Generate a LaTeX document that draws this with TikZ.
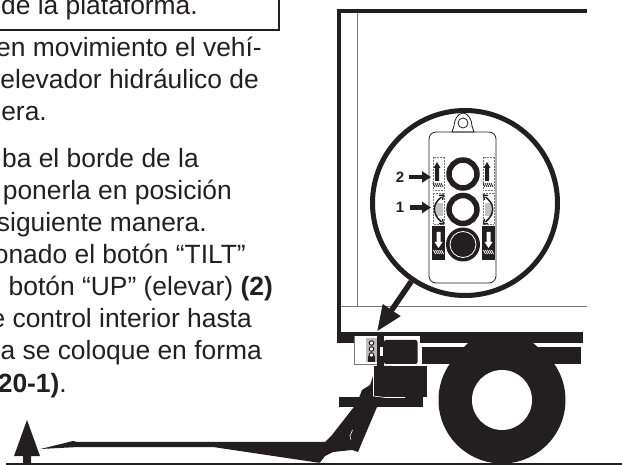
\documentclass[tikz,border=0pt]{standalone}
\usepackage{fontspec}
\usetikzlibrary{arrows.meta}
\setmainfont{Liberation Sans}
\definecolor{ink}{HTML}{231F20}
\definecolor{wire}{HTML}{777777}
\tikzset{
  para/.style={anchor=base east,inner sep=0pt,text=ink,font=\fontsize{26.4}{32}\selectfont},
  callout/.style={inner sep=0pt,text=ink,font=\fontsize{15}{15}\selectfont\bfseries},
  thin wire/.style={draw=wire,line width=0.9pt},
  pendant/.style={draw=ink,line width=0.8pt},
  dots/.style={draw=wire,line width=0.5pt,densely dotted},
  pointer/.style={draw=ink,line width=5.5pt,-{Triangle[length=26pt,width=20pt,fill=ink]}},
  small pointer/.style={draw=ink,line width=4.5pt,-{Triangle[length=9pt,width=11pt,fill=ink]}},
  button/.style={circle,draw=ink,line width=5.5pt,minimum size=28pt,inner sep=0pt}
}
\begin{document}
\begin{tikzpicture}[x=1pt,y=-1pt]
\useasboundingbox (0,0) rectangle (622,465);
% --- text column
\node[para] (t1) at (198,15) {de la plataforma.};
\draw[ink,line width=2pt] (-5,30) -- (279,30) -- (279,-5);
\node[para] (t2) at (262,57) {en movimiento el vehí-};
\node[para] (t3) at (259,89) {elevador hidráulico de};
\node[para] (t4) at (47,121) {nera.};
\node[para] (t5) at (199,168) {ba el borde de la};
\node[para] (t6) at (232,200) {ponerla en posición};
\node[para] (t7) at (207,232) {siguiente manera.};
\node[para] (t8) at (246,264) {onado el botón “TILT”};
\node[para] (t9) at (273,296) {botón “UP” (elevar) \textbf{(2)}};
\node[para] (t10) at (252,328) {e control interior hasta};
\node[para] (t11) at (262,360) {a se coloque en forma};
\node[para] (t12) at (67,392) {\textbf{20-1)}.};
% --- body of the vehicle
\fill[ink] (337,9) rectangle (587,13);
\fill[ink] (337,9) rectangle (341,336);
\draw[thin wire] (357,13) -- (357,306);
\draw[thin wire] (341,306.5) -- (587,306.5);
% --- chassis bars
\fill[ink] (337,332) rectangle (583,343.5);
\fill[ink] (422,347) rectangle (581,364);
% --- wheel
\fill[ink] (502,400) circle[radius=63.5];
\fill[ink] (468,343) -- (533,343) -- (540,349) -- (462,349) -- cycle;
\fill[white] (502,400) circle[radius=30];
% --- mount box, control box and blocks
\fill[white] (354,336) rectangle (420,365);
\draw[wire,line width=0.7pt] (354,336) -- (354,364.5) -- (378,364.5);
\fill[ink] (377,336) rectangle (384,367);
\fill[white] (380,347) rectangle (383,356);
\fill[ink,rounded corners=2pt] (384,340) rectangle (417.5,364);
\fill[wire!50] (366,338) rectangle (377,362);
\fill[ink] (368,356) rectangle (375,362);
\foreach \yy in {343,349,355}
  \draw[ink,line width=1pt,fill=white] (371.5,\yy) circle[radius=2.3];
% --- lift arm and platform
\fill[ink] (339,397) rectangle (423,407);
\fill[ink] (40.5,449) -- (73,441) -- (77,442) -- (325,442) -- (332,435) -- (357,403)
  -- (362,390) -- (370,385) -- (373,376) -- (378,366) -- (392,366) -- (392,407) -- (377,407)
  -- (363,440) -- (358,452) -- (352,450) -- (333,452) -- (325,456) -- (320,462.5) -- (317,462.5)
  -- (213,447) -- (78,447) -- cycle;
\fill[ink] (373,366) rectangle (426.5,397);
\draw[white,line width=0.6pt] (373.5,366) -- (373.5,396) -- (385,397.5) -- (405,397.5);
\draw[white,line width=0.6pt] (352.5,430) -- (350,436) -- (351,440);
% --- ground and up arrow
\fill[ink] (6,462.5) rectangle (622,465);
\fill[ink] (27,420) -- (40,456) -- (31,456) -- (31,463) -- (23,463) -- (23,456) -- (14,456) -- cycle;
% --- detail circle and pointer to the control box
\node[circle,draw=ink,fill=white,line width=5pt,minimum size=185pt,inner sep=0pt] (detail) at (465,203) {};
\coordinate (tip) at (377,331.5);
\draw[pointer] (detail) -- (tip);
% --- pendant
\draw[pendant,fill=white] (452,132) -- (454,126) .. controls (454,120) and (458,113) .. (463,113)
  .. controls (468,113) and (472,120) .. (472,126) -- (474,132) -- cycle;
\draw[pendant] (463,123) circle[radius=5];
\node[draw=ink,line width=0.8pt,rounded corners=7pt,minimum width=67pt,minimum height=151pt,inner sep=0pt] (pendantbody) at (462.5,207.5) {};
% --- buttons
\node[button] (b2) at (463,174) {};
\node[button] (b1) at (463,209.5) {};
\node[circle,fill=ink,minimum size=34pt,inner sep=0pt] (b0) at (463,244.5) {};
\draw[white,line width=0.8pt] (b0.center) circle[radius=13];
% --- symbols, both sides (\sg mirrors the tilt arrow)
\foreach \cx/\sg in {438.5/1,488.5/-1}{
  \draw[dots] (\cx-5.5,157) rectangle (\cx+5.5,190);
  \draw[dots] (\cx-5.5,193) rectangle (\cx+5.5,224);
  \fill[wire!45] (\cx-3.5,203) rectangle (\cx+4,216);
  % up arrow
  \fill[ink] (\cx-1.5,162) -- (\cx+2,168) -- (\cx+0.5,168) -- (\cx+0.5,181) -- (\cx-3.5,181) -- (\cx-3.5,168) -- (\cx-5,168) -- cycle;
  \foreach \dx in {-4,-2,0,2,4}
    \draw[ink,line width=0.7pt] (\cx+\dx-1.5,183) -- (\cx+\dx+0.5,187);
  % tilt arrow
  \draw[ink,line width=1.5pt] (\cx+\sg*3,197) .. controls (\cx-\sg*6.5,204) and (\cx-\sg*6.5,214) .. (\cx+\sg*3,222);
  \draw[ink,line width=1.3pt] (\cx+\sg*0.5,195.5) -- (\cx+\sg*5,195) -- (\cx+\sg*4,200);
  \draw[ink,line width=1.3pt] (\cx+\sg*0.5,223.5) -- (\cx+\sg*5,224) -- (\cx+\sg*4,219);
  % down square
  \fill[ink] (\cx-6.5,226) rectangle (\cx+6.5,260);
  \fill[white] (\cx-2,232) -- (\cx+2,232) -- (\cx+2,242) -- (\cx+4,242) -- (\cx,248) -- (\cx-4,242) -- (\cx-2,242) -- cycle;
  \foreach \dx in {-4,-2,0,2,4}
    \draw[white,line width=0.7pt] (\cx+\dx-1,250) -- (\cx+\dx+1,254);
}
% --- callouts
\node[callout] (c2) at (400,177) {2};
\node[callout] (c1) at (400,207.5) {1};
\coordinate (c2tip) at (431,177);
\coordinate (c1tip) at (431,207.5);
\draw[small pointer] (c2.east) ++(5,0) -- (c2tip);
\draw[small pointer] (c1.east) ++(6,0) -- (c1tip);
\end{tikzpicture}
\end{document}
